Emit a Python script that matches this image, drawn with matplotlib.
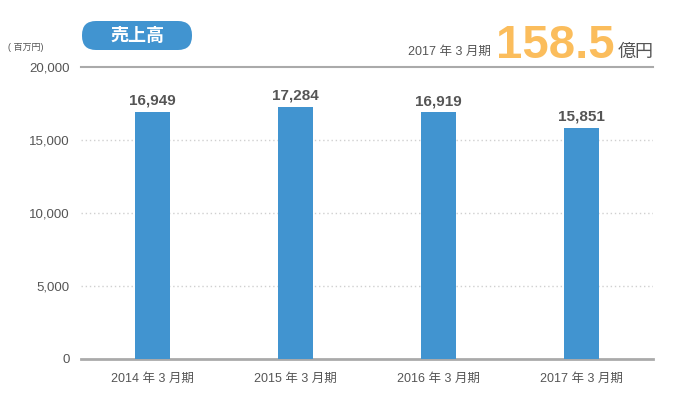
import matplotlib
matplotlib.use("Agg")
import matplotlib.pyplot as plt
from matplotlib.patches import FancyBboxPatch

plt.rcParams['font.family'] = ['Liberation Sans', 'Noto Sans CJK JP']

# data
years = ["2014 年 3 月期", "2015 年 3 月期", "2016 年 3 月期", "2017 年 3 月期"]
sales = [16949, 17284, 16919, 15851]
yticks = [0, 5000, 10000, 15000, 20000]

W, H = 675, 413
fig = plt.figure(figsize=(W / 100, H / 100), dpi=100)
ax = fig.add_axes([0.12, 0.1308, 0.8474, 0.707])

x = range(len(years))
ax.bar(x, sales, width=0.24, color="#4194d0", zorder=3)
for xi, v in zip(x, sales):
    ax.text(xi, v + 250, f"{v:,}", ha="center", va="bottom",
            fontsize=11, fontweight="bold", color="#555555")

ax.set_xlim(-0.5, len(years) - 0.5)
ax.set_ylim(0, 20000)
ax.set_yticks(yticks)
ax.set_yticklabels([f"{t:,}" for t in yticks], fontsize=9.5, color="#555555")
ax.set_xticks(list(x))
ax.set_xticklabels(years, fontsize=9, color="#555555")
ax.tick_params(length=0, pad=8)
ax.tick_params(axis="x", pad=10)

for s in ["left", "right", "top"]:
    ax.spines[s].set_visible(False)
ax.spines["bottom"].set_color("#aaaaaa")
ax.spines["bottom"].set_linewidth(2)
for t in yticks[1:-1]:
    ax.axhline(t, color="#d0d0d0", lw=1, ls=(0, (1, 2)), zorder=1)
ax.axhline(20000, color="#aaaaaa", lw=1.5, zorder=1, clip_on=False)

# header pill (pixel coordinates)
pill = FancyBboxPatch((82, H - 50), 110, 29,
                      boxstyle="round,pad=0,rounding_size=14",
                      transform=None, facecolor="#4194d0", edgecolor="none")
fig.patches.append(pill)
fig.text(137 / W, 1 - 35.5 / H, "売上高", ha="center", va="center",
         fontsize=13, fontweight="bold", color="white",
         family=['Noto Sans CJK JP'])
fig.text(8 / W, 1 - 48 / H, "( 百万円)", ha="left", va="center",
         fontsize=6.5, color="#555555")

fig.text(491 / W, 1 - 55 / H, "2017 年 3 月期", ha="right", va="baseline",
         fontsize=9, color="#555555")
fig.text(615 / W, 1 - 58 / H, "158.5", ha="right", va="baseline",
         fontsize=34, fontweight="bold", color="#fbbd5c")
fig.text(618 / W, 1 - 57 / H, "億円", ha="left", va="baseline",
         fontsize=13, color="#555555", family=['Noto Sans CJK JP'])

fig.savefig("out.png", dpi=100)
